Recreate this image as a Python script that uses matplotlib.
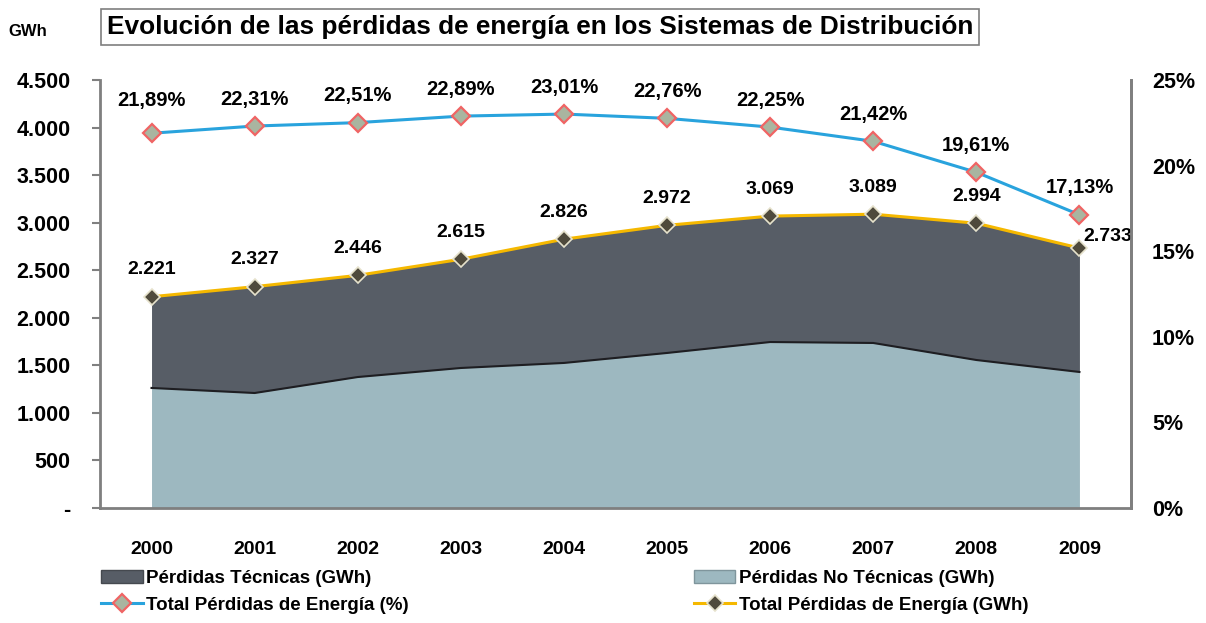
import matplotlib.pyplot as plt
from matplotlib.patches import Patch
from matplotlib.lines import Line2D

# datos
years = ["2000", "2001", "2002", "2003", "2004", "2005", "2006", "2007", "2008", "2009"]
no_tecnicas = [1262, 1209, 1377, 1472, 1525, 1630, 1745, 1735, 1556, 1430]
tecnicas = [959, 1118, 1069, 1143, 1301, 1342, 1324, 1354, 1438, 1303]
total_gwh = [2221, 2327, 2446, 2615, 2826, 2972, 3069, 3089, 2994, 2733]
total_pct = [21.89, 22.31, 22.51, 22.89, 23.01, 22.76, 22.25, 21.42, 19.61, 17.13]

plt.rcParams["font.family"] = ["Liberation Sans", "DejaVu Sans"]
plt.rcParams["font.weight"] = "bold"

C_TEC = "#575D66"
C_NOTEC = "#9DB8C0"
C_PCT = "#29A3DD"
C_GWH = "#F5B800"


def miles(v):
    if v == 0:
        return "-"
    return f"{v:,.0f}".replace(",", ".")


def main():
    fig = plt.figure(figsize=(12.06, 6.23), dpi=100)
    ax = fig.add_axes([0.0829, 0.1846, 0.8549, 0.687])
    x = list(range(len(years)))
    top = [a + b for a, b in zip(no_tecnicas, tecnicas)]

    ax.fill_between(x, 0, no_tecnicas, color=C_NOTEC, lw=0, zorder=1)
    ax.fill_between(x, no_tecnicas, top, color=C_TEC, lw=0, zorder=1)
    ax.plot(x, no_tecnicas, color="#1E1E22", lw=1.5, zorder=2)

    ax.plot(x, total_gwh, color=C_GWH, lw=2.2, marker="D", ms=8,
            mfc="#4F4A3C", mec="#E6E2CC", mew=1.2, zorder=4)
    for i, v in enumerate(total_gwh):
        dx, dy = (0, 27) if i < 9 else (28, 12)
        ax.annotate(miles(v), (i, v), xytext=(dx, dy), textcoords="offset pixels",
                    ha="center", va="center", fontsize=14, fontweight="bold", zorder=6)

    ax.set_xlim(-0.5, len(years) - 0.5)
    ax.set_ylim(0, 4500)
    ax.set_yticks(range(0, 4501, 500))
    ax.set_yticklabels([miles(v) for v in range(0, 4501, 500)])
    ax.set_xticks(x)
    ax.set_xticklabels(years)
    ax.tick_params(axis="x", length=0, pad=24, labelsize=14)
    ax.tick_params(axis="y", length=6, width=1.5, color="#808080", pad=15, labelsize=15.5)
    ax.spines["top"].set_visible(False)
    for s in ["left", "bottom", "right"]:
        ax.spines[s].set_color("#7F7F7F")
        ax.spines[s].set_linewidth(2)

    ax2 = ax.twinx()
    ax2.plot(x, total_pct, color=C_PCT, lw=2.2, marker="D", ms=9,
             mfc="#A9B5A0", mec="#F06464", mew=1.6, zorder=5)
    for i, v in enumerate(total_pct):
        dy = 33 if i == 0 else 27
        ax2.annotate(f"{v:.2f}%".replace(".", ","), (i, v), xytext=(0, dy),
                     textcoords="offset pixels", ha="center", va="center",
                     fontsize=14.5, fontweight="bold")
    ax2.set_ylim(0, 25)
    ax2.set_yticks(range(0, 26, 5))
    ax2.set_yticklabels([f"{v}%" for v in range(0, 26, 5)])
    ax2.tick_params(axis="y", length=0, pad=15, labelsize=15.5)
    for s in ["top", "left", "bottom"]:
        ax2.spines[s].set_visible(False)
    ax2.spines["right"].set_color("#7F7F7F")
    ax2.spines["right"].set_linewidth(2)

    fig.text(0.007, 0.95, "GWh", fontsize=12, fontweight="bold", va="center")
    fig.text(0.0885, 0.957, "Evolución de las pérdidas de energía en los Sistemas de Distribución",
             fontsize=18.9, fontweight="bold", va="center",
             bbox=dict(boxstyle="square,pad=0.22", fc="white", ec="#7F7F7F", lw=1.2))

    handles = [
        Patch(facecolor=C_TEC, edgecolor="#45494F"),
        Line2D([], [], color=C_PCT, lw=2.2, marker="D", ms=9, mfc="#A9B5A0", mec="#F06464", mew=1.6),
        Patch(facecolor=C_NOTEC, edgecolor="#7F959C"),
        Line2D([], [], color=C_GWH, lw=2.2, marker="D", ms=8, mfc="#4F4A3C", mec="#E6E2CC", mew=1.2),
    ]
    labels = ["Pérdidas Técnicas (GWh)", "Total Pérdidas de Energía (%)",
              "Pérdidas No Técnicas (GWh)", "Total Pérdidas de Energía (GWh)"]
    fig.legend(handles, labels, ncol=2, loc="upper left", bbox_to_anchor=(0.084, 0.085),
               frameon=False, prop={"size": 13.5, "weight": "bold"}, handlelength=2.2,
               handletextpad=0.2, columnspacing=15.2, labelspacing=0.5,
               borderaxespad=0, borderpad=0)

    fig.savefig("out.png", dpi=100)


if __name__ == "__main__":
    main()
